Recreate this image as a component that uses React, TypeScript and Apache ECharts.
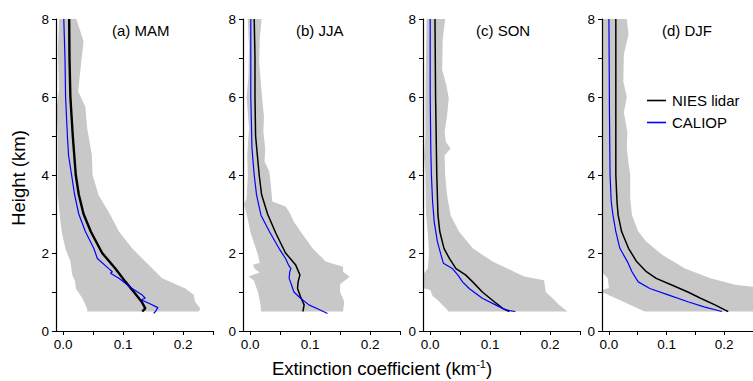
import React, { useEffect, useRef } from "react";
import * as echarts from "echarts";

// [extinction (km^-1), height (km)]
const panelTitles = ["(a) MAM", "(b) JJA", "(c) SON", "(d) DJF"];
const xTickValues = [0, 0.05, 0.1, 0.15, 0.2, 0.25];
const xLabelValues = [0, 0.1, 0.2];
const yLabelValues = [0, 2, 4, 6, 8];

const mamNies = [[0.010, 8], [0.0105, 7], [0.012, 6], [0.016, 5], [0.021, 4], [0.026, 3.5], [0.034, 3], [0.046, 2.55], [0.065, 2], [0.087, 1.6], [0.104, 1.26], [0.118, 1], [0.131, 0.75], [0.137, 0.58], [0.132, 0.5]];
const mamCaliop = [[0.001, 8], [0.003, 7], [0.004, 6], [0.007, 5], [0.009, 4.5], [0.014, 4], [0.019, 3.5], [0.026, 3], [0.037, 2.55], [0.051, 2.12], [0.057, 1.86], [0.076, 1.6], [0.082, 1.52], [0.079, 1.48], [0.093, 1.35], [0.115, 1.09], [0.132, 0.92], [0.137, 0.84], [0.13, 0.8], [0.143, 0.71], [0.158, 0.6], [0.154, 0.5], [0.151, 0.45]];
const mamLow = [[-0.007, 8], [-0.009, 7.2], [-0.007, 6.2], [-0.011, 5.7], [-0.009, 5], [-0.009, 4], [-0.009, 3.5], [-0.006, 3], [-0.002, 2.5], [0.004, 2.1], [0.012, 1.78], [0.015, 1.45], [0.02, 1.26], [0.021, 1.09], [0.032, 0.84], [0.04, 0.58], [0.04, 0.5]];
const mamHigh = [[0.022, 8], [0.034, 7.42], [0.029, 6.74], [0.025, 6.14], [0.037, 5.75], [0.04, 5.2], [0.048, 4.5], [0.049, 4.0], [0.059, 3.49], [0.079, 2.97], [0.093, 2.55], [0.115, 2.12], [0.137, 1.78], [0.165, 1.35], [0.204, 1.09], [0.218, 0.92], [0.22, 0.75], [0.229, 0.58], [0.226, 0.5]];

const jjaNies = [[0.0067, 8], [0.008, 7], [0.008, 6], [0.009, 5], [0.012, 4.5], [0.015, 4], [0.019, 3.5], [0.029, 3], [0.043, 2.5], [0.059, 2], [0.076, 1.69], [0.083, 1.44], [0.08, 1.26], [0.079, 1.09], [0.084, 0.88], [0.09, 0.67], [0.088, 0.5]];
const jjaCaliop = [[0.001, 8], [0.001, 6], [0.003, 4.68], [0.0067, 4.0], [0.0106, 3.49], [0.018, 2.97], [0.032, 2.55], [0.048, 2.12], [0.059, 1.86], [0.064, 1.69], [0.068, 1.6], [0.066, 1.52], [0.065, 1.35], [0.069, 1.18], [0.073, 1.0], [0.084, 0.84], [0.098, 0.67], [0.115, 0.55], [0.129, 0.45]];
const jjaLow = [[-0.004, 8], [-0.002, 7.3], [-0.003, 6.5], [-0.006, 6], [-0.002, 5.2], [-0.005, 4.5], [-0.004, 4], [-0.006, 3.4], [-0.01, 3.25], [-0.006, 3.0], [0.001, 2.5], [0.012, 2.0], [0.016, 1.75], [0.005, 1.7], [0.007, 1.6], [0.016, 1.5], [-0.003, 1.4], [0.006, 1.3], [0.013, 1.0], [0.017, 0.7], [0.018, 0.5]];
const jjaHigh = [[0.019, 8], [0.016, 7.5], [0.015, 6.9], [0.018, 6.3], [0.021, 5.8], [0.023, 5.5], [0.022, 5.1], [0.025, 4.68], [0.024, 4.34], [0.032, 4.09], [0.034, 3.8], [0.037, 3.32], [0.059, 3.19], [0.065, 3.06], [0.073, 2.8], [0.084, 2.55], [0.104, 2.12], [0.126, 1.78], [0.155, 1.65], [0.155, 1.52], [0.166, 1.39], [0.15, 1.2], [0.15, 1.0], [0.157, 0.75], [0.155, 0.5]];

const sonNies = [[0.008, 8], [0.009, 6], [0.011, 4], [0.013, 2.97], [0.016, 2.55], [0.023, 2.12], [0.032, 1.86], [0.043, 1.6], [0.059, 1.44], [0.071, 1.26], [0.087, 1.0], [0.107, 0.75], [0.121, 0.58], [0.132, 0.5]];
const sonCaliop = [[0.0, 8], [0.0, 6], [0.001, 4.68], [0.002, 4.0], [0.004, 3.32], [0.0067, 2.8], [0.012, 2.29], [0.018, 1.95], [0.022, 1.74], [0.037, 1.6], [0.046, 1.44], [0.054, 1.26], [0.065, 1.09], [0.087, 0.84], [0.109, 0.67], [0.126, 0.54], [0.142, 0.5]];
const sonLow = [[-0.006, 8], [-0.007, 7], [-0.008, 6], [-0.008, 5], [-0.01, 4.5], [-0.008, 4], [-0.007, 3], [-0.004, 2.5], [-0.002, 2.0], [-0.004, 1.6], [-0.012, 1.45], [-0.012, 1.1], [0.0, 1.05], [0.004, 0.9], [0.012, 0.8], [0.031, 0.5]];
const sonHigh = [[0.025, 8], [0.021, 7.5], [0.02, 6.7], [0.027, 6.3], [0.031, 5.97], [0.028, 5.5], [0.024, 5.1], [0.026, 4.85], [0.034, 4.68], [0.024, 4.5], [0.025, 4.0], [0.028, 3.5], [0.034, 2.97], [0.048, 2.55], [0.071, 2.12], [0.104, 1.78], [0.14, 1.52], [0.157, 1.4], [0.19, 1.3], [0.193, 1.0], [0.204, 0.84], [0.215, 0.67], [0.229, 0.5]];

const djfNies = [[0.012, 8], [0.012, 4], [0.014, 3.32], [0.016, 2.97], [0.022, 2.55], [0.034, 2.12], [0.048, 1.78], [0.065, 1.52], [0.082, 1.35], [0.109, 1.18], [0.137, 1.0], [0.159, 0.84], [0.184, 0.67], [0.201, 0.54], [0.207, 0.5]];
const djfCaliop = [[0.0, 8], [0.001, 5.5], [0.002, 4], [0.004, 3.32], [0.007, 2.97], [0.012, 2.55], [0.019, 2.12], [0.032, 1.78], [0.04, 1.52], [0.047, 1.35], [0.051, 1.26], [0.071, 1.09], [0.104, 0.92], [0.137, 0.75], [0.165, 0.62], [0.196, 0.5]];
const djfLow = [[-0.012, 8], [-0.012, 1.5], [-0.002, 1.35], [0.0, 1.1], [-0.012, 1.05], [-0.012, 1.0], [0.062, 0.5]];
const djfHigh = [[0.031, 8], [0.034, 7.6], [0.026, 7.1], [0.025, 6.4], [0.031, 6.0], [0.026, 5.6], [0.032, 5.1], [0.031, 4.7], [0.034, 4.3], [0.037, 4.0], [0.037, 3.4], [0.04, 2.97], [0.051, 2.55], [0.065, 2.29], [0.093, 1.95], [0.132, 1.6], [0.176, 1.35], [0.221, 1.18], [0.26, 1.12], [0.26, 0.5]];

const panels = [
  { nies: mamNies, caliop: mamCaliop, low: mamLow, high: mamHigh, left: 56, niesWidth: 2.4 },
  { nies: jjaNies, caliop: jjaCaliop, low: jjaLow, high: jjaHigh, left: 243, niesWidth: 1.5 },
  { nies: sonNies, caliop: sonCaliop, low: sonLow, high: sonHigh, left: 423, niesWidth: 1.5 },
  { nies: djfNies, caliop: djfCaliop, low: djfLow, high: djfHigh, left: 602, niesWidth: 1.5 },
];
const titleOffsets = [112, 296, 476, 662];

const FONT = "'Liberation Sans', Arial, sans-serif";

export default function App() {
  const ref = useRef<HTMLDivElement>(null);
  useEffect(() => {
    if (!ref.current) return;
    const chart = echarts.init(ref.current, undefined, { renderer: "svg" });
    const grids: any[] = [];
    const xAxes: any[] = [];
    const yAxes: any[] = [];
    const series: any[] = [];
    panels.forEach((p, i) => {
      grids.push({ left: p.left, top: 19, width: 157, height: 312 });
      xAxes.push({
        type: "value", gridIndex: i, min: -0.012, max: 0.25, z: 10,
        splitLine: { show: false },
        axisLine: { onZero: false, lineStyle: { color: "#000", width: 1.2 } },
        axisTick: { customValues: xTickValues, length: 4, lineStyle: { color: "#000", width: 1 } },
        axisLabel: {
          customValues: xLabelValues, color: "#000", fontSize: 13.5, fontFamily: FONT, margin: 6,
          formatter: (v: number) => v.toFixed(1),
        },
      });
      yAxes.push({
        type: "value", gridIndex: i, min: 0, max: 8, interval: 1, z: 10,
        splitLine: { show: false },
        axisLine: { show: true, onZero: false, lineStyle: { color: "#000", width: 1.2 } },
        axisTick: { length: 4, lineStyle: { color: "#000", width: 1 } },
        axisLabel: {
          customValues: yLabelValues, color: "#000", fontSize: 13.5, fontFamily: FONT, margin: 7,
        },
      });
      const poly = [...p.low, ...p.high.slice().reverse()];
      series.push({
        type: "custom", xAxisIndex: i, yAxisIndex: i, clip: true, silent: true, z: 1,
        data: poly, encode: { x: 0, y: 1 },
        renderItem: (params: any, api: any) => {
          if (params.dataIndex !== 0) return null;
          const pts = poly.map((q) => api.coord(q));
          return { type: "polygon", shape: { points: pts }, style: { fill: "#c8c8c8", stroke: null } };
        },
      });
      series.push({
        type: "line", name: "NIES lidar", xAxisIndex: i, yAxisIndex: i, data: p.nies,
        symbol: "none", z: 3, lineStyle: { color: "#000", width: p.niesWidth }, itemStyle: { color: "#000" },
      });
      series.push({
        type: "line", name: "CALIOP", xAxisIndex: i, yAxisIndex: i, data: p.caliop,
        symbol: "none", z: 3, lineStyle: { color: "#0000ff", width: 1.2 }, itemStyle: { color: "#0000ff" },
      });
    });

    const graphics: any[] = panelTitles.map((t, i) => ({
      type: "text", left: titleOffsets[i], top: 23,
      style: { text: t, fontSize: 15, fontFamily: FONT, fill: "#000" },
    }));
    graphics.push({
      type: "text", x: 18, y: 178, rotation: Math.PI / 2,
      style: { text: "Height (km)", fontSize: 18.5, fontFamily: FONT, fill: "#000", align: "center", verticalAlign: "middle" },
    });
    graphics.push({
      type: "text", x: 382, y: 368,
      style: {
        text: "Extinction coefficient (km{sup|-1})",
        fontSize: 18.5, fontFamily: FONT, fill: "#000", align: "center", verticalAlign: "middle",
        rich: { sup: { fontSize: 11, fontFamily: FONT, fill: "#000", verticalAlign: "top", lineHeight: 18 } },
      },
    });

    chart.setOption({
      animation: false,
      backgroundColor: "#fff",
      grid: grids,
      xAxis: xAxes,
      yAxis: yAxes,
      series,
      legend: {
        data: ["NIES lidar", "CALIOP"],
        orient: "vertical", left: 647, top: 93, padding: 0,
        icon: "rect",
        itemWidth: 19, itemHeight: 1.6, itemGap: 7,
        textStyle: { fontSize: 15, fontFamily: FONT, color: "#000", padding: [0, 0, 0, 1] },
        selectedMode: false,
      },
      graphic: graphics,
    });
    return () => chart.dispose();
  }, []);
  return <div ref={ref} style={{ position: "fixed", left: 0, top: 0, width: 753, height: 381, background: "#fff" }} />;
}
